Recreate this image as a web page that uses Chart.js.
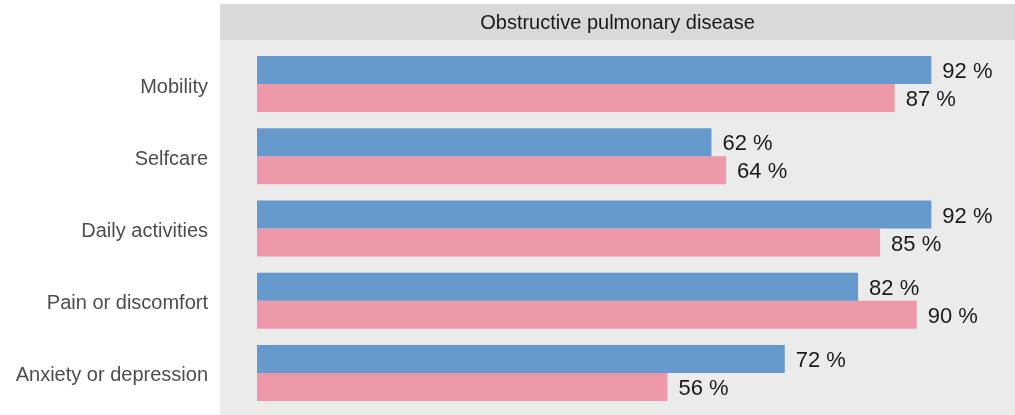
<!DOCTYPE html>
<html>
<head>
<meta charset="utf-8">
<script src="https://cdn.jsdelivr.net/npm/chart.js@4/dist/chart.umd.min.js"></script>
<style>
  html, body { margin: 0; padding: 0; background: #fff; }
  #wrap { width: 1015px; height: 415px; }
</style>
</head>
<body>
<div id="wrap"><canvas id="myChart" width="1015" height="415"></canvas></div>
<script>
const categories = ['Mobility', 'Selfcare', 'Daily activities', 'Pain or discomfort', 'Anxiety or depression'];
const blueValues = [92, 62, 92, 82, 72];
const pinkValues = [87, 64, 85, 90, 56];
const panelTitle = 'Obstructive pulmonary disease';

// grey panel + title strip behind the plot
const panelPlugin = {
  id: 'panel',
  beforeDraw(chart) {
    const ctx = chart.ctx;
    ctx.save();
    ctx.fillStyle = '#ebebeb';
    ctx.fillRect(220, 4, chart.width - 220, chart.height - 4);
    ctx.fillStyle = '#d9d9d9';
    ctx.fillRect(220, 4, chart.width - 220, 36);
    ctx.fillStyle = '#1a1a1a';
    ctx.font = '20px "Liberation Sans", Arial, sans-serif';
    ctx.textAlign = 'center';
    ctx.textBaseline = 'middle';
    ctx.fillText(panelTitle, (220 + chart.width) / 2, 23);
    ctx.restore();
  }
};

// value labels at the end of each bar
const valueLabels = {
  id: 'valueLabels',
  afterDatasetsDraw(chart) {
    const ctx = chart.ctx;
    ctx.save();
    ctx.fillStyle = '#1a1a1a';
    ctx.font = '22px "Liberation Sans", Arial, sans-serif';
    ctx.textAlign = 'left';
    ctx.textBaseline = 'middle';
    chart.data.datasets.forEach((ds, i) => {
      chart.getDatasetMeta(i).data.forEach((bar, j) => {
        ctx.fillText(ds.data[j] + ' %', bar.x + 11, bar.y + 2);
      });
    });
    ctx.restore();
  }
};

const chart = new Chart(document.getElementById('myChart').getContext('2d'), {
  type: 'bar',
  data: {
    labels: categories,
    datasets: [{
      data: blueValues,
      backgroundColor: '#6699cc',
      borderWidth: 0,
      barPercentage: 1,
      categoryPercentage: 0.775
    }, {
      data: pinkValues,
      backgroundColor: '#ee99aa',
      borderWidth: 0,
      barPercentage: 1,
      categoryPercentage: 0.775
    }]
  },
  options: {
    indexAxis: 'y',
    responsive: false,
    animation: false,
    layout: { padding: { top: 48, bottom: 6, right: 25, left: 0 } },
    plugins: { legend: { display: false }, tooltip: { enabled: false } },
    scales: {
      x: { display: false, min: 0, max: 100 },
      y: {
        // invisible tick marks push the labels away from the bars
        grid: { display: true, drawOnChartArea: false, color: 'rgba(0,0,0,0)', tickLength: 49 },
        border: { display: false },
        afterFit(scale) { scale.width = 257; },
        ticks: {
          padding: 0,
          labelOffset: 3,
          color: '#4d4d4d',
          font: { family: '"Liberation Sans", Arial, sans-serif', size: 20, lineHeight: 0.5 }
        }
      }
    }
  },
  plugins: [panelPlugin, valueLabels]
});
</script>
</body>
</html>
